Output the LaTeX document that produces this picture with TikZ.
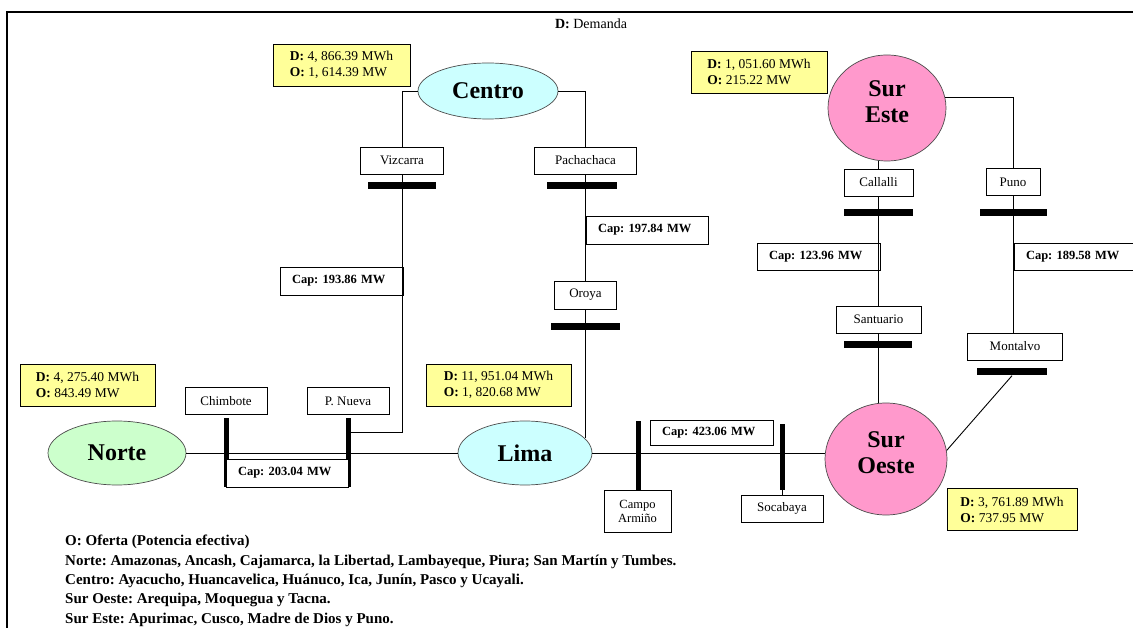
\documentclass[tikz,border=0pt]{standalone}
\usepackage{fontspec}
\setmainfont{Liberation Serif}
\usetikzlibrary{shapes.geometric}
\definecolor{dyellow}{HTML}{FFFF99}
\definecolor{rcyan}{HTML}{CCFFFF}
\definecolor{rgreen}{HTML}{CCFFCC}
\definecolor{rpink}{HTML}{FF99CC}
\frenchspacing
\begin{document}
\begin{tikzpicture}[x=1pt,y=-1pt,
  region/.style={ellipse, draw=black!70, line width=0.7pt, inner sep=0pt, align=center,
    font=\fontsize{24}{26}\selectfont\bfseries},
  sta/.style={draw, line width=0.9pt, fill=white, inner sep=0pt, minimum height=27pt,
    font=\fontsize{13}{14}\selectfont, align=center},
  bus/.style={fill=black, inner sep=0pt, minimum width=68pt, minimum height=7pt},
  vbus/.style={fill=black, inner sep=0pt, minimum width=5pt, minimum height=69pt},
  capbox/.style={draw, line width=0.9pt, fill=white, inner xsep=12pt, inner ysep=0pt,
    minimum height=28pt, text width=#1, align=left,
    font=\fontsize{12.5}{14}\selectfont\bfseries},
  dbox/.style={draw, line width=0.9pt, fill=dyellow, inner xsep=4pt, inner ysep=0pt,
    minimum height=42pt, minimum width=#1, align=left,
    font=\fontsize{13.5}{16}\selectfont},
  wire/.style={line width=0.9pt},
  note/.style={anchor=west, inner sep=0pt, font=\fontsize{15}{17}\selectfont\bfseries}
]
\useasboundingbox (0,0) rectangle (1133,628);
\clip (0,0) rectangle (1133,628);

% frame
\coordinate (fbl) at (7,628);
\coordinate (ftl) at (7,12);
\coordinate (ftr) at (1134,12);
\draw[line width=1.6pt] (fbl) -- (ftl) -- (ftr);

\node[font=\fontsize{14}{16}\selectfont] (legD) at (591,24) {\textbf{D:} Demanda};

% demand boxes
\node[dbox=137pt] (dcentro) at (341.5,65) {\textbf{D:} 4, 866.39 MWh\\\textbf{O:} 1, 614.39 MW};
\node[dbox=136pt] (dsureste) at (759,72) {\textbf{D:} 1, 051.60 MWh\\\textbf{O:} 215.22 MW};
\node[dbox=135pt] (dnorte) at (87.5,385) {\textbf{D:} 4, 275.40 MWh\\\textbf{O:} 843.49 MW};
\node[dbox=145pt] (dlima) at (498.5,385) {\textbf{D:} 11, 951.04 MWh\\\textbf{O:} 1, 820.68 MW};
\node[dbox=130pt] (dsuroeste) at (1012,509.5) {\textbf{D:} 3, 761.89 MWh\\\textbf{O:} 737.95 MW};

% regions
\node[region, fill=rcyan, minimum width=140pt, minimum height=56pt] (centro) at (488,91) {Centro};
\node[region, fill=rpink, minimum width=118pt, minimum height=106pt, text depth=13pt] (sureste) at (887,108) {Sur\\Este};
\node[region, fill=rgreen, minimum width=138pt, minimum height=64pt] (norte) at (117,453) {Norte};
\node[region, fill=rcyan, minimum width=134pt, minimum height=64pt] (lima) at (525,453) {Lima};
\node[region, fill=rpink, minimum width=122pt, minimum height=112pt, text depth=13pt] (suroeste) at (886,459) {Sur\\Oeste};

% stations and buses
\node[sta, minimum width=83pt] (viz) at (402,160.5) {Vizcarra};
\node[bus] (vizbar) at (401.5,186) {};
\node[sta, minimum width=102pt] (pach) at (585.5,160.5) {Pachachaca};
\node[bus, minimum width=70pt] (pachbar) at (582,186) {};
\node[sta, minimum width=62pt, minimum height=28pt] (oroya) at (585.5,295) {Oroya};
\node[bus, minimum width=69pt] (oroyabar) at (585.5,327) {};
\node[sta, minimum width=82pt] (chim) at (226,401) {Chimbote};
\node[vbus] (chimbar) at (226,452.5) {};
\node[sta, minimum width=82pt] (pnueva) at (348,401) {P. Nueva};
\node[vbus] (pnbar) at (348,452.5) {};
\node[vbus] (campobar) at (638,455.5) {};
\node[sta, minimum width=67pt, minimum height=42pt, font=\fontsize{12.5}{14}\selectfont] (campo) at (637.5,511) {Campo\\Armiño};
\node[vbus, minimum height=66pt] (socbar) at (782,457) {};
\node[sta, minimum width=82pt] (soca) at (782,508.5) {Socabaya};
\node[sta, minimum width=69pt] (call) at (878.5,182.5) {Callalli};
\node[bus, minimum width=69pt] (callbar) at (878,213) {};
\node[sta, minimum width=54pt] (puno) at (1013,182) {Puno};
\node[bus, minimum width=67pt] (punobar) at (1013.5,213) {};
\node[sta, minimum width=85pt] (sant) at (878.5,319.5) {Santuario};
\node[bus] (santbar) at (878,345) {};
\node[sta, minimum width=95pt] (mont) at (1015,346.5) {Montalvo};
\node[bus, minimum width=70pt] (montbar) at (1012,372) {};

% capacity boxes
\node[capbox=98pt] (c197) at (647,230) {Cap: 197.84 MW};
\node[capbox=99pt] (c193) at (341.5,281) {Cap: 193.86 MW};
\node[capbox=98pt] (c203) at (287,473) {Cap: 203.04 MW};
\node[capbox=99pt, minimum height=25pt] (c423) at (711.5,432.5) {Cap: 423.06 MW};
\node[capbox=99pt, minimum height=27pt] (c123) at (818.5,256.5) {Cap: 123.96 MW};
\node[capbox=102pt, minimum height=27pt] (c189) at (1077,256.5) {Cap: 189.58 MW};

% wires
\coordinate (vjoin) at (402,432);
\draw[wire] (centro.west) -| (viz.north);
\draw[wire] (viz.south) -- (vjoin) -- (vjoin -| pnbar);
\draw[wire] (centro.east) -| (pach.north);
\draw[wire] (pach.south) -- (oroya.north);
\draw[wire] (oroya.south) -- (oroya.south |- lima.14);
\draw[wire] (norte.east) -- (lima.west);
\draw[wire] (lima.east) -- (lima.east -| suroeste.west);
\draw[wire] (socbar.south) -- (soca.north);
\draw[wire] (call.north) -- (call.north |- sureste.south);
\draw[wire] (call.south) -- (sant.north);
\draw[wire] (sant.south) -- (sant.south |- suroeste.north);
\draw[wire] (sureste.10) -| (puno.north);
\draw[wire] (puno.south) -- (puno.south |- mont.north);
\draw[wire] (montbar.south) -- (suroeste.8);

% notes
\node[note] (n1) at (65,542) {O: Oferta (Potencia efectiva)};
\node[note] (n2) at (65,562) {Norte: Amazonas, Ancash, Cajamarca, la Libertad, Lambayeque, Piura; San Martín y Tumbes.};
\node[note] (n3) at (65,581) {Centro: Ayacucho, Huancavelica, Huánuco, Ica, Junín, Pasco y Ucayali.};
\node[note] (n4) at (65,600) {Sur Oeste: Arequipa, Moquegua y Tacna.};
\node[note] (n5) at (65,620) {Sur Este: Apurimac, Cusco, Madre de Dios y Puno.};
\end{tikzpicture}
\end{document}
